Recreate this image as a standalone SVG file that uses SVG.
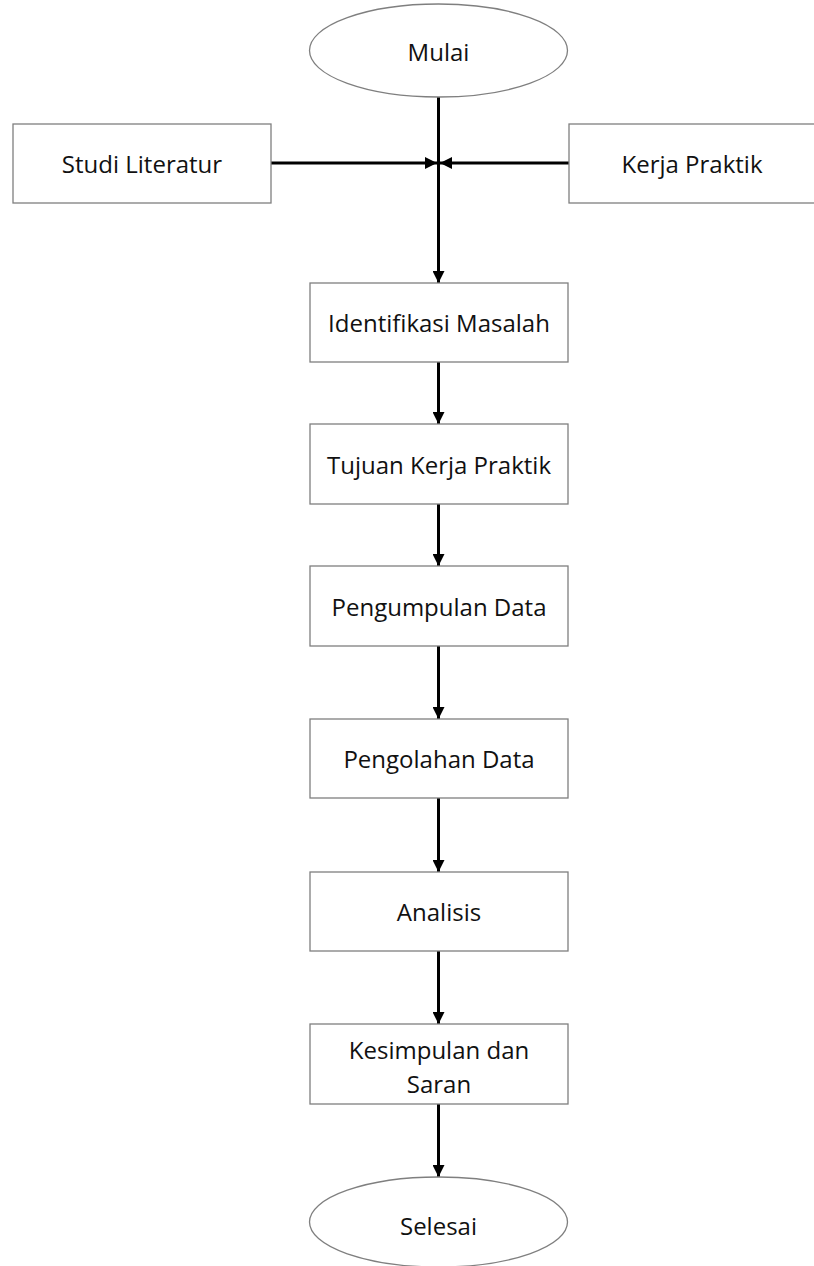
<svg xmlns="http://www.w3.org/2000/svg" width="814" height="1266" viewBox="0 0 814 1266">
  <style>
    .box { fill: #ffffff; stroke: #7f7f7f; stroke-width: 1.3; }
    .lbl { font-family: "Open Sans", "Liberation Sans", sans-serif; font-size: 24px; fill: #111111; text-anchor: middle; dominant-baseline: central; }
    .flow { stroke: #000000; stroke-width: 3; fill: none; }
  </style>
  <defs>
    <marker id="arrow" viewBox="0 0 10 10" refX="10" refY="5" markerWidth="4" markerHeight="4" orient="auto" markerUnits="strokeWidth">
      <path d="M0,0 L10,5 L0,10 Z" fill="#000000"/>
    </marker>
  </defs>
  <rect width="814" height="1266" fill="#ffffff"/>

  <g id="connectors">
    <line class="flow" x1="438.5" y1="97" x2="438.5" y2="283" marker-end="url(#arrow)"/>
    <line class="flow" x1="271" y1="163" x2="437" y2="163" marker-end="url(#arrow)"/>
    <line class="flow" x1="569" y1="163" x2="440" y2="163" marker-end="url(#arrow)"/>
    <line class="flow" x1="438.5" y1="362" x2="438.5" y2="424" marker-end="url(#arrow)"/>
    <line class="flow" x1="438.5" y1="504" x2="438.5" y2="566" marker-end="url(#arrow)"/>
    <line class="flow" x1="438.5" y1="646" x2="438.5" y2="719" marker-end="url(#arrow)"/>
    <line class="flow" x1="438.5" y1="798" x2="438.5" y2="872" marker-end="url(#arrow)"/>
    <line class="flow" x1="438.5" y1="951" x2="438.5" y2="1024" marker-end="url(#arrow)"/>
    <line class="flow" x1="438.5" y1="1104" x2="438.5" y2="1177" marker-end="url(#arrow)"/>
  </g>

  <g id="mulai">
    <ellipse class="box" cx="438.5" cy="50.5" rx="129" ry="46.5"/>
    <text class="lbl" x="438.5" y="51">Mulai</text>
  </g>
  <g id="studi-literatur">
    <rect class="box" x="13" y="124" width="258" height="79"/>
    <text class="lbl" x="142" y="163">Studi Literatur</text>
  </g>
  <g id="kerja-praktik">
    <rect class="box" x="569" y="124" width="258" height="79"/>
    <text class="lbl" x="692" y="163">Kerja Praktik</text>
  </g>
  <g id="identifikasi-masalah">
    <rect class="box" x="310" y="283" width="258" height="79"/>
    <text class="lbl" x="439" y="322">Identifikasi Masalah</text>
  </g>
  <g id="tujuan-kerja-praktik">
    <rect class="box" x="310" y="424" width="258" height="80"/>
    <text class="lbl" x="439" y="464">Tujuan Kerja Praktik</text>
  </g>
  <g id="pengumpulan-data">
    <rect class="box" x="310" y="566" width="258" height="80"/>
    <text class="lbl" x="439" y="606">Pengumpulan Data</text>
  </g>
  <g id="pengolahan-data">
    <rect class="box" x="310" y="719" width="258" height="79"/>
    <text class="lbl" x="439" y="758">Pengolahan Data</text>
  </g>
  <g id="analisis">
    <rect class="box" x="310" y="872" width="258" height="79"/>
    <text class="lbl" x="439" y="911">Analisis</text>
  </g>
  <g id="kesimpulan-dan-saran">
    <rect class="box" x="310" y="1024" width="258" height="80"/>
    <text class="lbl" x="439" y="1049">Kesimpulan dan</text>
    <text class="lbl" x="439" y="1083">Saran</text>
  </g>
  <g id="selesai">
    <ellipse class="box" cx="438.5" cy="1222" rx="129" ry="45"/>
    <text class="lbl" x="438.5" y="1225">Selesai</text>
  </g>
</svg>
